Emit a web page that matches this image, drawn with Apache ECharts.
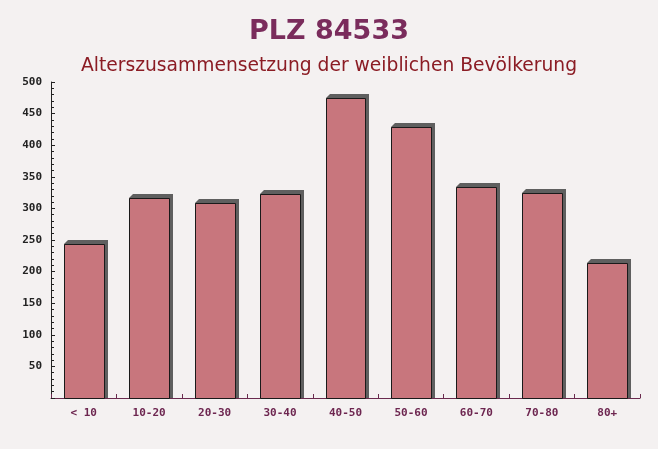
<!DOCTYPE html>
<html><head><meta charset="utf-8">
<script src="https://cdn.jsdelivr.net/npm/echarts@6/dist/echarts.min.js"></script>
<style>html,body{margin:0;padding:0;background:#f4f1f1}#c{width:658px;height:449px}</style>
</head><body><div id="c"></div>
<script>
const categories = ['< 10','10-20','20-30','30-40','40-50','50-60','60-70','70-80','80+'];
const values = [244, 316, 308, 323, 474, 429, 334, 325, 213];
const yTicks = [50,100,150,200,250,300,350,400,450,500];
const titleText = 'PLZ 84533';
const subtitleText = 'Alterszusammensetzung der weiblichen Bevölkerung';

const chart = echarts.init(document.getElementById('c'));
function renderBar(params, api) {
  const i = api.value(0), v = api.value(1);
  const top = api.coord([i, v]);
  const base = api.coord([i, 0]);
  const w = api.size([1, 0])[0] * 0.61;
  const x0 = Math.round(top[0] - w / 2), x1 = Math.round(top[0] + w / 2);
  const y0 = Math.round(top[1]), yb = Math.round(base[1]);
  const d = 4;
  return {
    type: 'group',
    children: [
      {type: 'polygon', shape: {points: [[x0, y0], [x0 + d, y0 - d], [x1 + d, y0 - d], [x1 + d, yb], [x1, yb]]},
        style: {fill: '#5f5f5f'}},
      {type: 'rect', shape: {x: x0 + 0.5, y: y0 + 0.5, width: x1 - x0, height: yb - y0},
        style: {fill: '#c8767d', stroke: '#1a1a1a', lineWidth: 1}}
    ]
  };
}
chart.setOption({
  backgroundColor: '#f4f1f1',
  animation: false,
  title: [
    {text: titleText, left: 'center', top: 13, textStyle: {fontFamily: 'DejaVu Sans', fontWeight: 'bold', fontSize: 27, color: '#7a2c5c'}},
    {text: subtitleText, left: 'center', top: 52, textStyle: {fontFamily: 'DejaVu Sans', fontWeight: 'normal', fontSize: 18.7, color: '#8b1c24'}}
  ],
  grid: {left: 51, right: 18, top: 82, bottom: 51},
  xAxis: {
    type: 'category', data: categories,
    axisLine: {lineStyle: {color: '#6a2a4e', width: 1}},
    axisTick: {show: true, inside: true, length: 4, lineStyle: {color: '#6a2a4e'}},
    axisLabel: {fontFamily: 'DejaVu Sans Mono', fontWeight: 'bold', fontSize: 11, color: '#6d2650', margin: 10}
  },
  yAxis: [{
    type: 'value', min: 0, max: 500, interval: 50,
    axisLine: {show: true, lineStyle: {color: '#222', width: 1}},
    axisTick: {show: true, inside: true, length: 4, lineStyle: {color: '#222'}},
    splitLine: {show: false},
    axisLabel: {fontFamily: 'DejaVu Sans Mono', fontWeight: 'bold', fontSize: 11, color: '#222', margin: 9,
      formatter: v => yTicks.includes(v) ? String(v) : ''}
  }, {
    type: 'value', min: 0, max: 500, interval: 10, position: 'left',
    axisLine: {show: false},
    axisTick: {show: true, inside: true, length: 3, lineStyle: {color: '#222'}},
    splitLine: {show: false},
    axisLabel: {show: false}
  }],
  series: [{
    type: 'custom', renderItem: renderBar,
    data: values.map((v, i) => [i, v]),
    encode: {x: 0, y: 1}
  }]
});
</script></body></html>
